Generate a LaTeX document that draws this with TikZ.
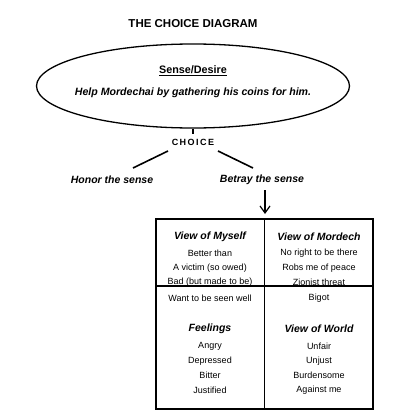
\documentclass[tikz,border=0pt]{standalone}
\usepackage{fontspec}
\setmainfont{Liberation Sans}
\usetikzlibrary{arrows.meta,positioning,shapes.geometric}

\begin{document}
\begin{tikzpicture}[x=1pt,y=-1pt,every node/.style={font=\fontsize{9}{10}\selectfont,inner sep=0pt}]
      \tikzstyle{hd}=[font=\fontsize{10.5}{12}\selectfont\bfseries\itshape]
      \tikzstyle{ln}=[line width=1.6pt]
      \useasboundingbox (0,0) rectangle (403,420);
      \node[font=\fontsize{11.5}{13}\selectfont\bfseries] (title) at (193,24) {THE CHOICE DIAGRAM};
      \node[ellipse,draw,line width=1.3pt,minimum width=313pt,minimum height=84pt] (sense) at (193,86) {};
      \node[font=\fontsize{10.8}{12}\selectfont\bfseries] (sd) at (193,71) {\underline{Sense/Desire}};
      \node[hd,font=\fontsize{10.6}{12}\selectfont\bfseries\itshape] (help) at (193,93) {Help Mordechai by gathering his coins for him.};
      \node[font=\fontsize{9}{10}\selectfont\bfseries,text depth=0pt] (choice) at (193,142) {C\,H\,O\,I\,C\,E};
      \coordinate (tick) at (193,134);
      \node[hd] (honor) at (112,180) {Honor the sense};
      \node[hd] (betray) at (262,180) {Betray the sense};
      \coordinate (cl) at (168,151);
      \coordinate (hl) at (133,168);
      \coordinate (cr) at (218,151);
      \coordinate (br) at (253,168);
      \coordinate (top) at (265,214);
      \draw[ln] (sense.south) -- (tick);
      \draw[ln] (cl) -- (hl);
      \draw[ln] (cr) -- (br);
      \draw[line width=1.2pt,-{Straight Barb[length=7pt,width=10pt]}] (betray.south)++(3,5) -- (top);
      % the grid
      \node[draw,line width=1.6pt,minimum width=217pt,minimum height=190pt] (grid) at (264.5,314) {};
      \draw[line width=1.6pt] (grid.north) -- (grid.south);
      % left column
      \node[hd] (me) at (210,237) {View of Myself};
      \node (m1) at (210,253) {Better than};
      \node (m2) at (210,268) {A victim (so owed)};
      \node (m3) at (210,282) {Bad (but made to be)};
      \node (m4) at (210,298) {Want to be seen well};
      \node[hd] (feel) at (210,329) {Feelings};
      \node (f1) at (210,346) {Angry};
      \node (f2) at (210,361) {Depressed};
      \node (f3) at (210,375) {Bitter};
      \node (f4) at (210,390) {Justified};
      % right column
      \node[hd] (mord) at (319,237) {View of Mordech};
      \node (r1) at (319,253) {No right to be there};
      \node (r2) at (319,268) {Robs me of peace};
      \node (r3) at (319,282) {Zionist threat};
      \node (r4) at (319,298) {Bigot};
      \node[hd] (world) at (319,329) {View of World};
      \node (w1) at (319,346) {Unfair};
      \node (w2) at (319,361) {Unjust};
      \node (w3) at (319,375) {Burdensome};
      \node (w4) at (319,390) {Against me};
      \draw[line width=1.6pt] (grid.west |- 0,286) -- (grid.east |- 0,286);
    \end{tikzpicture}
\end{document}
